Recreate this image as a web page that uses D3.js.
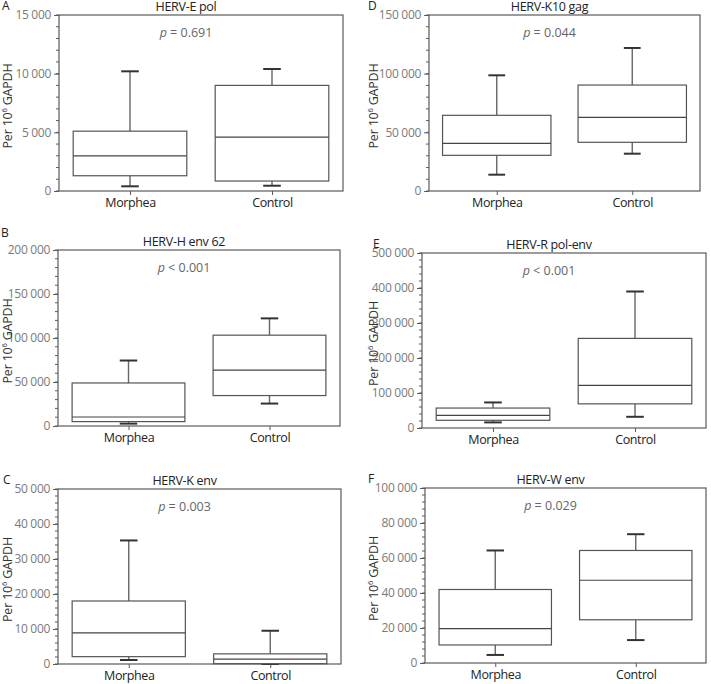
<!DOCTYPE html>
<html><head><meta charset="utf-8">
<script src="https://cdn.jsdelivr.net/npm/d3@7"></script>
<style>
body{margin:0;background:#fff;}
svg{display:block;font-family:"Open Sans","Noto Sans",sans-serif;}
</style></head><body>
<svg id="chart" width="711" height="684"></svg>
<script>
// ---- data ----
const panelLetters = ["A","B","C","D","E","F"];
const titles = ["HERV-E pol","HERV-H env 62","HERV-K env","HERV-K10 gag","HERV-R pol-env","HERV-W env"];
const pOps = ["=","<","=","=","<","="];
const pVals = ["0.691","0.001","0.003","0.044","0.001","0.029"];
const categories = ["Morphea","Control"];
const yMax = [15000,200000,50000,150000,500000,100000];
const yStep = [5000,50000,10000,50000,100000,20000];
// [lower whisker, Q1, median, Q3, upper whisker]
const morpheaA = [400,1300,3000,5100,10200];
const controlA = [450,850,4600,9000,10400];
const morpheaB = [2700,5000,10200,48900,74400];
const controlB = [25500,34600,63400,103200,122300];
const morpheaC = [1150,2100,8900,18000,35300];
const controlC = [0,100,1400,2900,9500];
const morpheaD = [13900,30400,40600,64500,98600];
const controlD = [31800,41500,62800,90300,121900];
const morpheaE = [16000,22000,36000,57000,73000];
const controlE = [32000,69000,122000,256000,390000];
const morpheaF = [4600,10300,19600,42000,64300];
const controlF = [13100,24700,47300,64300,73600];
const morpheaStats = [morpheaA,morpheaB,morpheaC,morpheaD,morpheaE,morpheaF];
const controlStats = [controlA,controlB,controlC,controlD,controlE,controlF];

// ---- layout (plot frames) ----
const frames = [
  {x0:59,x1:343,y0:15,y1:191, lx:2, ax:7},
  {x0:58,x1:340,y0:250,y1:426, lx:1, ax:7},
  {x0:58,x1:341,y0:489,y1:664, lx:3, ax:7},
  {x0:429,x1:700,y0:15,y1:191, lx:368, ax:373},
  {x0:422,x1:706,y0:253,y1:428, lx:373, ax:373},
  {x0:425,x1:706,y0:488,y1:663, lx:368, ax:373}
];
const fmt = v => d3.format(",")(v).replace(/,/g, "\u2009");
const fmtS = v => d3.format(",")(v).replace(/,/g, " ");

const svg = d3.select("#chart");
const lineCol = "#5a5a5a";

frames.forEach((f, i) => {
  const g = svg.append("g");
  const y = d3.scaleLinear().domain([0, yMax[i]]).range([f.y1, f.y0]);
  const x = d3.scalePoint().domain(categories).range([f.x0, f.x1]).padding(0.5);
  const w = f.x1 - f.x0;
  const boxW = w * 0.4, capW = w * 0.062;
  const cx = (f.x0 + f.x1) / 2 - 15;

  // minor ticks
  const minor = d3.range(0, yMax[i] + 1e-9, yStep[i] / 5);
  g.append("g").selectAll("line").data(minor).join("line")
    .attr("x1", f.x0 - 3).attr("x2", f.x0)
    .attr("y1", d => y(d)).attr("y2", d => y(d))
    .attr("stroke", lineCol).attr("stroke-width", 1);

  // y axis
  const yAxis = d3.axisLeft(y).tickValues(d3.range(0, yMax[i] + 1e-9, yStep[i]))
    .tickFormat(fmtS).tickSize(5).tickPadding(3);
  const ya = g.append("g").attr("transform", `translate(${f.x0},0)`).call(yAxis);
  ya.select(".domain").remove();
  ya.selectAll(".tick line").attr("stroke", lineCol);
  ya.selectAll(".tick text").attr("fill", "#7a7a7a").attr("font-size", 12)
    .attr("font-family", "'Open Sans',sans-serif").attr("letter-spacing", "-0.3");

  // x axis ticks
  const xAxis = d3.axisBottom(x).tickSize(4).tickPadding(3);
  const xa = g.append("g").attr("transform", `translate(0,${f.y1})`).call(xAxis);
  xa.select(".domain").remove();
  xa.selectAll(".tick line").attr("stroke", lineCol);
  xa.selectAll(".tick text").attr("fill", "#222").attr("font-size", 12.5)
    .attr("font-family", "'Open Sans',sans-serif").attr("letter-spacing", "-0.4");

  // frame
  g.append("rect").attr("x", f.x0).attr("y", f.y0)
    .attr("width", w).attr("height", f.y1 - f.y0)
    .attr("fill", "none").attr("stroke", lineCol).attr("stroke-width", 1.2);

  // boxes
  const stats = [morpheaStats[i], controlStats[i]];
  categories.forEach((c, k) => {
    const s = stats[k];
    const px = x(c);
    const bg = g.append("g");
    // whiskers
    bg.append("line").attr("x1", px).attr("x2", px).attr("y1", y(s[3])).attr("y2", y(s[4]))
      .attr("stroke", "#666").attr("stroke-width", 1.4);
    bg.append("line").attr("x1", px).attr("x2", px).attr("y1", y(s[1])).attr("y2", y(s[0]))
      .attr("stroke", "#666").attr("stroke-width", 1.4);
    [s[0], s[4]].forEach(v => {
      bg.append("line").attr("x1", px - capW / 2).attr("x2", px + capW / 2)
        .attr("y1", y(v)).attr("y2", y(v)).attr("stroke", "#333").attr("stroke-width", 2);
    });
    bg.append("rect").attr("x", px - boxW / 2).attr("y", y(s[3]))
      .attr("width", boxW).attr("height", y(s[1]) - y(s[3]))
      .attr("fill", "#fff").attr("stroke", "#555").attr("stroke-width", 1.2);
    bg.append("line").attr("x1", px - boxW / 2).attr("x2", px + boxW / 2)
      .attr("y1", y(s[2])).attr("y2", y(s[2])).attr("stroke", "#444").attr("stroke-width", 1.2);
  });

  // title
  g.append("text").attr("x", cx).attr("y", f.y0 - 4).attr("text-anchor", "middle")
    .attr("font-size", 12.5).attr("fill", "#222").attr("letter-spacing", "-0.3").text(titles[i]);
  // panel letter
  g.append("text").attr("x", f.lx).attr("y", f.y0 - 5 - (i === 1 ? 8 : 0))
    .attr("font-size", 12).attr("fill", "#222").text(panelLetters[i]);
  // p-value
  const pt = g.append("text").attr("x", cx).attr("y", f.y0 + 22).attr("text-anchor", "middle")
    .attr("font-size", 12.5).attr("fill", "#666");
  pt.append("tspan").attr("font-style", "italic").text("p");
  pt.append("tspan").text(` ${pOps[i]} ${pVals[i]}`);

  // y axis label
  const lab = g.append("text")
    .attr("transform", `translate(${f.ax + 5},${(f.y0 + f.y1) / 2 + 3}) rotate(-90)`)
    .attr("text-anchor", "middle").attr("font-size", 12.5).attr("fill", "#333")
    .attr("letter-spacing", "-0.2");
  lab.append("tspan").text("Per 10");
  lab.append("tspan").attr("font-size", 7.5).attr("dy", -5).text("6");
  lab.append("tspan").attr("dy", 5).text(" GAPDH");
});
</script>
</body></html>
